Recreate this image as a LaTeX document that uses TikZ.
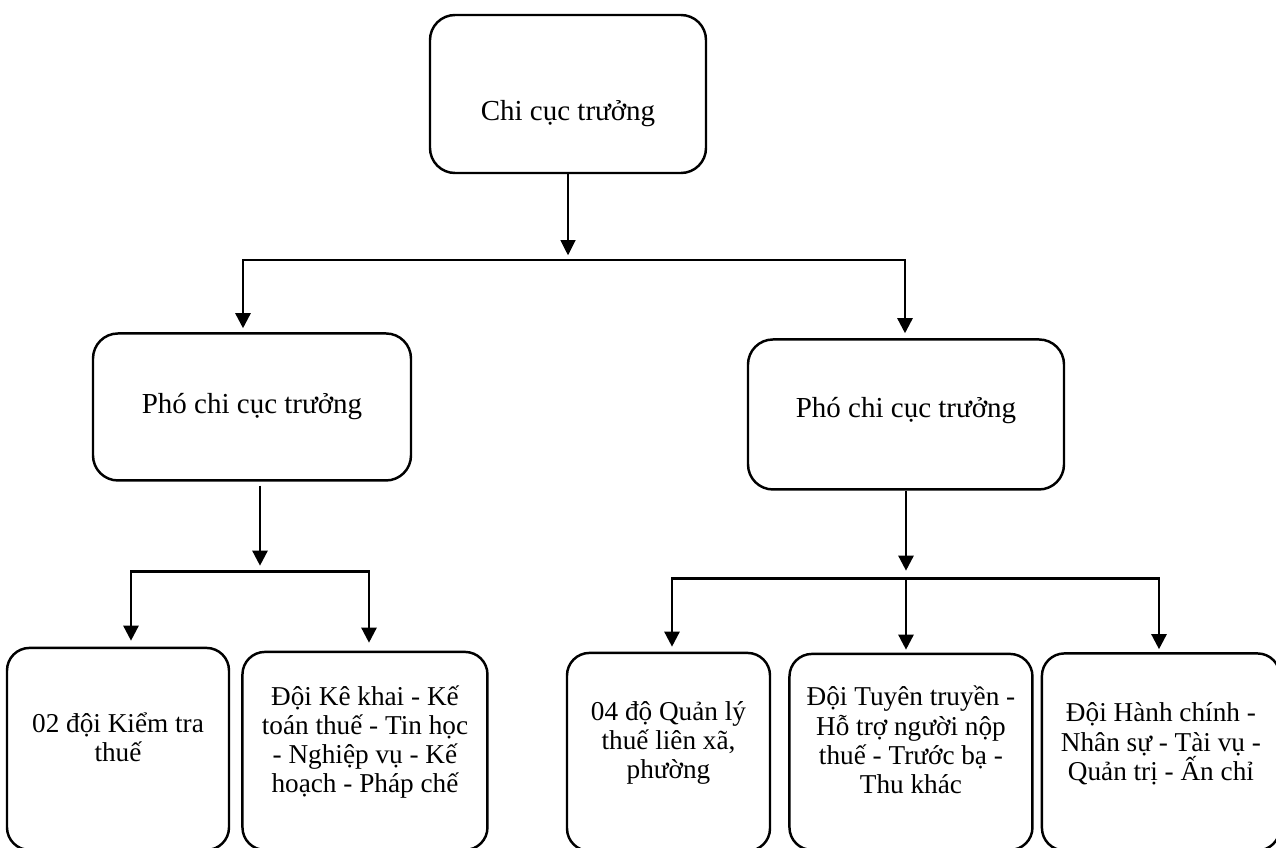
\documentclass[tikz,border=0pt]{standalone}
\usepackage{fontspec}
\setmainfont{Liberation Serif}
\usepackage{tikz}
\usetikzlibrary{arrows.meta}
\usetikzlibrary{positioning}
\tikzset{
  unit/.style={draw, line width=1.4pt, rounded corners=0.5cm},
  head/.style={unit},
  team/.style={unit, rounded corners=0.45cm},
  head text/.style={align=center, inner sep=0pt, font={\fontsize{16.5pt}{19pt}\selectfont}},
  team text/.style={align=center, inner sep=0pt, font={\fontsize{15.5pt}{16.6pt}\selectfont}},
  link/.style={line width=1.4pt},
  arr/.style={link, -{Triangle[length=0.3cm,width=0.3cm]}},
  thinarr/.style={line width=0.6pt, -{Triangle[length=0.3cm,width=0.3cm]}},
}

\begin{document}
\begin{tikzpicture}
  \useasboundingbox (0,0) rectangle (25.52,-16.94);
  % Define nodes
  \node[head, minimum width=5.52cm, minimum height=3.16cm] (cct) at (11.36,-1.88) {};
  \node[head, minimum width=6.36cm, minimum height=2.94cm, below=3.16 of cct, xshift=-6.32cm] (pct1) {};
  \node[head, minimum width=6.32cm, minimum height=3.0cm, below=3.28 of cct, xshift=6.76cm] (pct2) {};
  \node[team, minimum width=4.44cm, minimum height=4.04cm, below=3.3 of pct1, xshift=-2.68cm] (kt) {};
  \node[team, minimum width=4.9cm, minimum height=3.96cm, right=0.22 of kt, yshift=-0.04cm] (kk) {};
  \node[team, minimum width=4.06cm, minimum height=3.96cm, below=3.22 of pct2, xshift=-4.75cm] (ql) {};
  \node[team, minimum width=4.86cm, minimum height=3.92cm, right=0.34 of ql] (tt) {};
  \node[team, minimum width=4.76cm, minimum height=3.94cm, right=0.14 of tt] (hc) {};

  % Texts
  \node[head text, yshift=-0.4cm] (cct txt) at (cct) {Chi cục trưởng};
  \node[head text] (pct1 txt) at (pct1) {Phó chi cục trưởng};
  \node[head text, yshift=0.08cm] (pct2 txt) at (pct2) {Phó chi cục trưởng};
  \node[team text, yshift=0.24cm] (kt txt) at (kt) {02 đội Kiểm tra\\thuế};
  \node[team text, yshift=0.18cm] (kk txt) at (kk) {Đội Kê khai - Kế\\toán thuế - Tin học\\- Nghiệp vụ - Kế\\hoạch - Pháp chế};
  \node[team text, yshift=0.18cm] (ql txt) at (ql) {04 độ Quản lý\\thuế liên xã,\\phường};
  \node[team text, yshift=0.24cm] (tt txt) at (tt) {Đội Tuyên truyền -\\Hỗ trợ người nộp\\thuế - Trước bạ -\\Thu khác};
  \node[team text, yshift=0.16cm] (hc txt) at (hc) {Đội Hành chính -\\Nhân sự - Tài vụ -\\Quản trị - Ấn chỉ};

  % Branch points
  \coordinate[below=1.72 of cct.south] (hub);
  \coordinate[left=6.5 of hub] (hubL);
  \coordinate[right=6.74 of hub] (hubR);
  \coordinate[below=1.8 of pct1.south, xshift=0.16cm] (hubA);
  \coordinate[left=2.58 of hubA] (hubAL);
  \coordinate[right=2.18 of hubA] (hubAR);
  \coordinate[below=1.76 of pct2.south] (hubB);
  \coordinate[left=4.68 of hubB] (hubBL);
  \coordinate[right=5.06 of hubB] (hubBR);

  % Connect the nodes
  \draw[thinarr, shorten >=0.1cm] (cct) -- (hub);
  \draw[arr, shorten >=0.08cm] (hub) -- (hubL) -- (hubL |- pct1.north);
  \draw[arr, shorten >=0.1cm] (hub) -- (hubR) -- (hubR |- pct2.north);
  \draw[arr, shorten <=0.08cm, shorten >=0.12cm] ([xshift=0.16cm]pct1.south) -- (hubA);
  \draw[arr, shorten >=0.12cm] (hubA) -- (hubAL) -- (hubAL |- kt.north);
  \draw[arr, shorten >=0.16cm] (hubA) -- (hubAR) -- (hubAR |- kk.north);
  \draw[arr, shorten >=0.16cm] (pct2) -- (hubB);
  \draw[arr, shorten >=0.1cm] (hubB) -- (hubBL) -- (hubBL |- ql.north);
  \draw[arr, shorten >=0.06cm] (hubB) -- (hubB |- tt.north);
  \draw[arr, shorten >=0.06cm] (hubB) -- (hubBR) -- (hubBR |- hc.north);
\end{tikzpicture}
\end{document}
